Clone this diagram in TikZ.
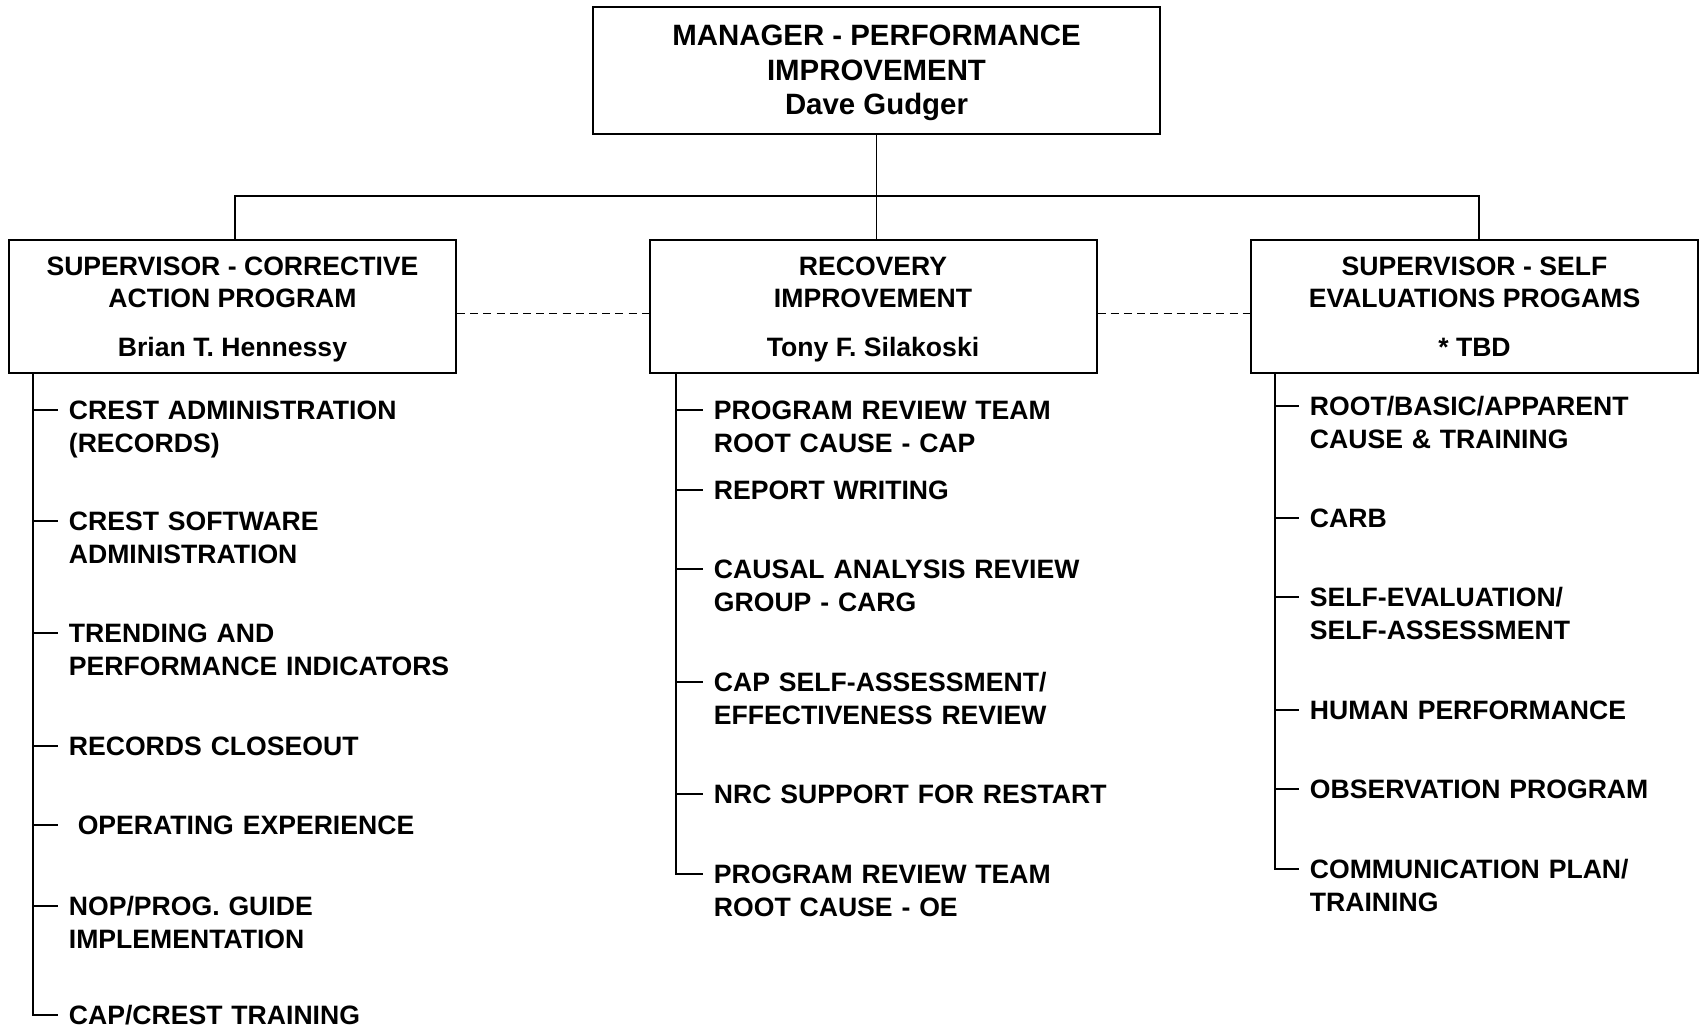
\documentclass[tikz,border=0pt]{standalone}
\usepackage{fontspec}
\setmainfont{Liberation Sans}
% one duty under a unit: text node plus the point its tick runs to
\newcommand{\duty}[4]{\node[task] (#1) at (#2,#3) {#4};
  \coordinate (#1-tick) at ([xshift=-5pt,yshift=4.75pt]#1.base west);}

\begin{document}
\begin{tikzpicture}[x=0.5pt,y=-0.5pt,line width=0.9pt,
  head/.style={draw,line width=1pt,align=center,inner sep=0pt,
    minimum width=283.5pt,minimum height=63.5pt,text depth=-1pt,
    font=\fontsize{14.7}{17.25}\selectfont\bfseries},
  unit/.style={draw,line width=1pt,align=center,inner sep=0pt,
    minimum width=223.5pt,minimum height=66.5pt,text depth=0pt,
    font=\fontsize{13.3}{16.25}\selectfont\bfseries},
  task/.style={anchor=base west,yshift=-4.75pt,inner sep=0pt,
    text width=210pt,align=left,
    font=\fontsize{13.3}{16.25}\selectfont\bfseries},
  peer/.style={line width=0.6pt,dash pattern=on 4pt off 2.6pt}]
\useasboundingbox (0,0) rectangle (1700,1028);

\node[head] (mgr) at (876.5,70) {MANAGER - PERFORMANCE\\IMPROVEMENT\\Dave Gudger};

\node[unit] (cap) at (232.5,306.5) {SUPERVISOR - CORRECTIVE\\ACTION PROGRAM\\[8pt]Brian T. Hennessy};
\node[unit] (rec) at (873,306.5) {RECOVERY\\IMPROVEMENT\\[8pt]Tony F. Silakoski};
\node[unit] (sep) at (1474.5,306.5) {SUPERVISOR - SELF\\EVALUATIONS PROGAMS\\[8pt]* TBD};

% reporting lines
\coordinate (bus) at (876.5,196);
\draw (mgr.south) -- (mgr.south |- rec.north);
\draw ([xshift=1.25pt]cap.north) |- (bus) -| ([xshift=2.25pt]sep.north);
\draw[peer] ([yshift=-3.5pt]cap.east) -- ([yshift=-3.5pt]rec.west);
\draw[peer] ([yshift=-3.5pt]rec.east) -- ([yshift=-3.5pt]sep.west);

% corrective action program
\coordinate (capT) at (33,373);
\duty{c1}{68}{410}{CREST ADMINISTRATION\\(RECORDS)}
\duty{c2}{68}{521}{CREST SOFTWARE\\ADMINISTRATION}
\duty{c3}{68}{633}{TRENDING AND\\PERFORMANCE INDICATORS}
\duty{c4}{68}{746}{RECORDS CLOSEOUT}
\duty{c5}{68}{825}{~OPERATING EXPERIENCE}
\duty{c6}{68}{906}{NOP/PROG. GUIDE\\IMPLEMENTATION}
\duty{c7}{68}{1015}{CAP/CREST TRAINING}
\draw (capT) |- (c7-tick)
  (capT |- c1-tick) -- (c1-tick) (capT |- c2-tick) -- (c2-tick)
  (capT |- c3-tick) -- (c3-tick) (capT |- c4-tick) -- (c4-tick)
  (capT |- c5-tick) -- (c5-tick) (capT |- c6-tick) -- (c6-tick);

% recovery improvement
\coordinate (recT) at (676,373);
\duty{r1}{713}{410}{PROGRAM REVIEW TEAM\\ROOT CAUSE - CAP}
\duty{r2}{713}{490}{REPORT WRITING}
\duty{r3}{713}{569}{CAUSAL ANALYSIS REVIEW\\GROUP - CARG}
\duty{r4}{713}{682}{CAP SELF-ASSESSMENT/\\EFFECTIVENESS REVIEW}
\duty{r5}{713}{794}{NRC SUPPORT FOR RESTART}
\duty{r6}{713}{874}{PROGRAM REVIEW TEAM\\ROOT CAUSE - OE}
\draw (recT) |- (r6-tick)
  (recT |- r1-tick) -- (r1-tick) (recT |- r2-tick) -- (r2-tick)
  (recT |- r3-tick) -- (r3-tick) (recT |- r4-tick) -- (r4-tick)
  (recT |- r5-tick) -- (r5-tick);

% self evaluations programs
\coordinate (sepT) at (1275,373);
\duty{s1}{1309}{406}{ROOT/BASIC/APPARENT\\CAUSE \& TRAINING}
\duty{s2}{1309}{518}{CARB}
\duty{s3}{1309}{597}{SELF-EVALUATION/\\SELF-ASSESSMENT}
\duty{s4}{1309}{710}{HUMAN PERFORMANCE}
\duty{s5}{1309}{789}{OBSERVATION PROGRAM}
\duty{s6}{1309}{869}{COMMUNICATION PLAN/\\TRAINING}
\draw (sepT) |- (s6-tick)
  (sepT |- s1-tick) -- (s1-tick) (sepT |- s2-tick) -- (s2-tick)
  (sepT |- s3-tick) -- (s3-tick) (sepT |- s4-tick) -- (s4-tick)
  (sepT |- s5-tick) -- (s5-tick);
\end{tikzpicture}
\end{document}
